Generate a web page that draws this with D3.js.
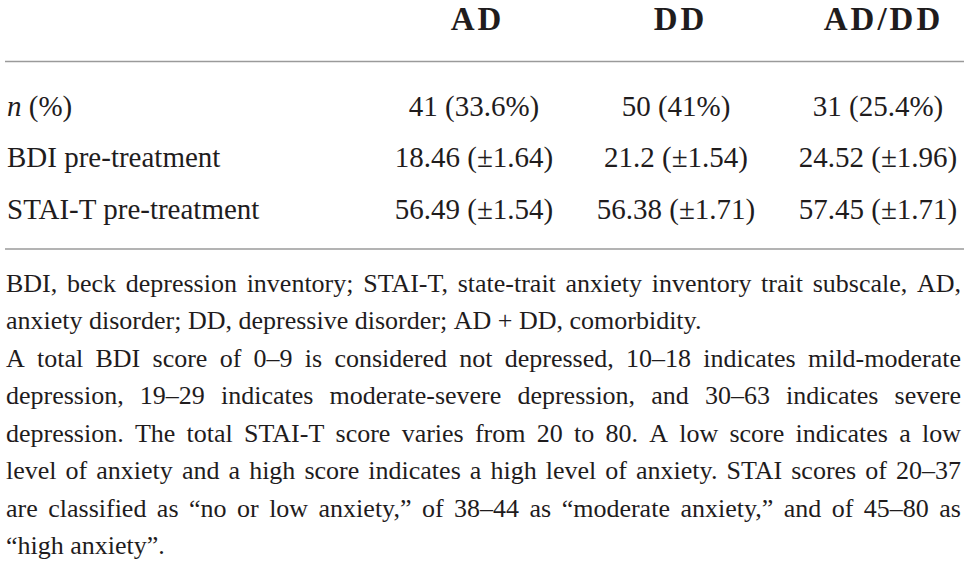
<!DOCTYPE html>
<html lang="en">
<head>
    <meta charset="UTF-8">
    <title>AD / DD pre-treatment scores</title>
    <style>
        body { margin: 0; background: #fff; }
    </style>
</head>
<body>
    <script src="https://d3js.org/d3.v7.min.js"></script>
    <div id="chart"></div>
    <script>

// Table data
const groups = ["AD", "DD", "AD/DD"];
const rowLabels = ["n (%)", "BDI pre-treatment", "STAI-T pre-treatment"];
const nCount = [41, 50, 31];
const nPercent = [33.6, 41, 25.4];
const bdiMean = [18.46, 21.2, 24.52];
const bdiSe = [1.64, 1.54, 1.96];
const staiMean = [56.49, 56.38, 57.45];
const staiSe = [1.54, 1.71, 1.71];

// Footnote, one entry per printed line; last line of each paragraph is not justified
const noteLines = [
    ["BDI, beck depression inventory; STAI-T, state-trait anxiety inventory trait subscale, AD,", true],
    ["anxiety disorder; DD, depressive disorder; AD + DD, comorbidity.", false],
    ["A total BDI score of 0\u20139 is considered not depressed, 10\u201318 indicates mild-moderate", true],
    ["depression, 19\u201329 indicates moderate-severe depression, and 30\u201363 indicates severe", true],
    ["depression. The total STAI-T score varies from 20 to 80. A low score indicates a low", true],
    ["level of anxiety and a high score indicates a high level of anxiety. STAI scores of 20\u201337", true],
    ["are classified as \u201cno or low anxiety,\u201d of 38\u201344 as \u201cmoderate anxiety,\u201d and of 45\u201380 as", true],
    ["\u201chigh anxiety\u201d.", false]
];

const width = 968;
const height = 564;
const left = 6;
const right = 961;
const serif = "'Liberation Serif', 'DejaVu Serif', serif";
const headSpacing = 3;

const cells = [
    nCount.map((d, i) => `${d} (${nPercent[i]}%)`),
    bdiMean.map((d, i) => `${d} (\u00b1${bdiSe[i]})`),
    staiMean.map((d, i) => `${d} (\u00b1${staiSe[i]})`)
];

const svg = d3.select("#chart").append("svg")
    .attr("width", width)
    .attr("height", height)
    .attr("font-family", serif)
    .attr("fill", "#1f1c1d");

const x = d3.scalePoint().domain(groups).range([474, 878]);
const y = d3.scalePoint().domain(rowLabels).range([115.5, 218.5]);

// Header (trailing letter-spacing shifts the centre, so add half of it back)
svg.selectAll(".head")
    .data(groups)
    .enter()
    .append("text")
    .attr("class", "head")
    .attr("x", (d, i) => x(d) + 2 + i + headSpacing / 2)
    .attr("y", 30)
    .attr("text-anchor", "middle")
    .attr("font-family", serif)
    .attr("font-size", 33)
    .attr("font-weight", "bold")
    .attr("letter-spacing", headSpacing)
    .text(d => d);

// Rules
svg.selectAll(".rule")
    .data([61.5, 249])
    .enter()
    .append("line")
    .attr("x1", 5)
    .attr("x2", 964)
    .attr("y1", d => d)
    .attr("y2", d => d)
    .attr("stroke", "#9a9a9a")
    .attr("stroke-width", 1.6);

// Row labels
const labels = svg.selectAll(".label")
    .data(rowLabels)
    .enter()
    .append("text")
    .attr("class", "label")
    .attr("x", 7)
    .attr("y", d => y(d))
    .attr("font-family", serif)
    .attr("font-size", 29);

labels.each(function(d) {
    const t = d3.select(this);
    if (d.startsWith("n ")) {
        t.append("tspan").attr("font-style", "italic").text("n");
        t.append("tspan").text(" (%)");
    } else {
        t.text(d);
    }
});

// Cells
rowLabels.forEach((r, ri) => {
    svg.selectAll(".cell-" + ri)
        .data(cells[ri])
        .enter()
        .append("text")
        .attr("x", (d, i) => x(groups[i]))
        .attr("y", y(r))
        .attr("text-anchor", "middle")
        .attr("font-family", serif)
        .attr("font-size", 29)
        .text(d => d);
});

// Footnote with justified lines
const note = svg.append("g")
    .attr("font-family", serif)
    .attr("font-size", 26);

function measure(str) {
    const tmp = note.append("text").style("white-space", "pre").text(str);
    const w = tmp.node().getComputedTextLength();
    tmp.remove();
    return w;
}

const spaceW = measure("a a") - measure("aa");
const noteY = d3.scaleLinear().domain([0, noteLines.length - 1]).range([291.7, 554.2]);

noteLines.forEach((line, li) => {
    const words = line[0].split(" ");
    const widths = words.map(measure);
    const total = d3.sum(widths);
    let gap = spaceW;
    if (line[1] && words.length > 1) {
        gap = (right - left - total) / (words.length - 1);
    }
    let pos = left;
    words.forEach((w, wi) => {
        note.append("text")
            .attr("x", pos)
            .attr("y", noteY(li))
            .text(w);
        pos += widths[wi] + gap;
    });
});
    </script>
</body>
</html>
